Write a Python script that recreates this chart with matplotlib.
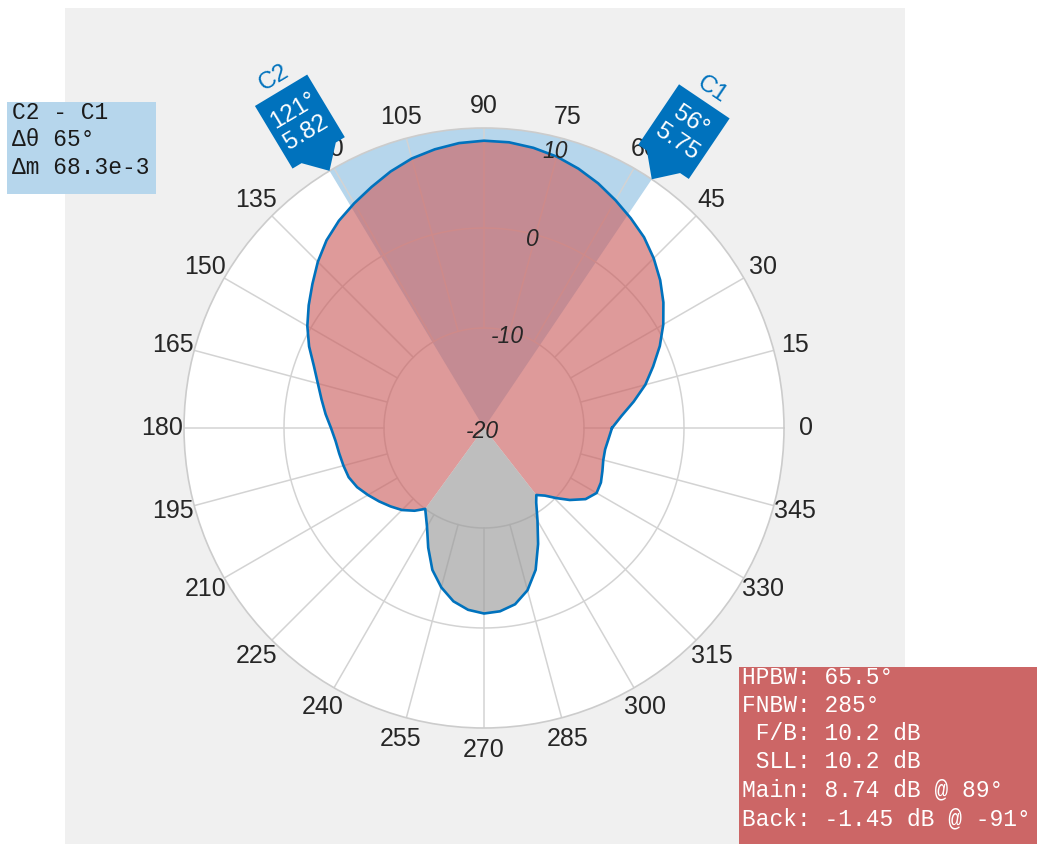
import numpy as np
import matplotlib
matplotlib.use("Agg")
import matplotlib.pyplot as plt
from matplotlib.patches import Polygon, Rectangle
from matplotlib.transforms import Affine2D, ScaledTranslation

# ---------------- data ----------------
angle_deg = [0, 5, 10, 15, 20, 25, 30, 35, 40, 45, 50, 55, 60, 65, 70, 75, 80, 85, 90,
             95, 100, 105, 110, 115, 120, 125, 130, 135, 140, 145, 150, 155, 160, 165,
             170, 175, 180, 185, 190, 195, 200, 205, 210, 215, 220, 225, 230, 234, 240,
             245, 250, 255, 260, 265, 270, 275, 280, 285, 290, 295, 300, 305, 308, 312,
             316, 320, 325, 330, 335, 340, 345, 350, 355]
mag_db = [-7.2, -6.2, -4.8, -3.3, -2.0, -0.6, 0.7, 1.9, 3.0, 4.0, 4.9, 5.6, 6.3, 7.0, 7.6,
          8.1, 8.45, 8.68, 8.73, 8.6, 8.3, 7.9, 7.3, 6.6, 5.95, 5.3, 4.5, 3.5, 2.4, 1.4,
          0.4, -0.7, -1.9, -2.8, -3.5, -4.1, -4.7, -5.1, -5.3, -5.45, -5.6, -6.0, -6.6,
          -7.2, -7.8, -8.4, -9.2, -10.0, -8.6, -6.8, -4.9, -3.5, -2.4, -1.75, -1.45, -1.6,
          -2.1, -3.2, -4.9, -7.2, -9.3, -10.9, -11.5, -10.9, -9.9, -8.8, -7.6, -7.0, -7.1,
          -7.4, -7.65, -7.7, -7.5]

null_angles = [234, 308]            # first nulls bounding the main lobe
cursor_names = ["C1", "C2"]
cursor_angles = [56, 121]
cursor_values = [5.75, 5.82]
theta_ticks = list(range(0, 360, 15))
r_ticks = [-20, -10, 0, 10]
r_min, r_max = -20, 10
delta_lines = ["C2 - C1", "\u0394\u03b8 65\u00b0", "\u0394m 68.3e-3"]
metric_lines = ["HPBW: 65.5\u00b0", "FNBW: 285\u00b0", " F/B: 10.2 dB", " SLL: 10.2 dB",
                "Main: 8.74 dB @ 89\u00b0", "Back: -1.45 dB @ -91\u00b0"]

# ---------------- style ----------------
W, H = 1037, 844
BLUE = "#0072BD"
LIGHT_BLUE = "#B6D6EC"
RED = "#CC6262"
GREY = "#9A9A9A"
GRID = "#D3D3D3"
SANS = ["Liberation Sans", "DejaVu Sans"]
MONO = ["Liberation Mono", "DejaVu Sans Mono"]

fig = plt.figure(figsize=(W / 100, H / 100), dpi=100)
fig.patch.set_facecolor("white")
fig.add_artist(Rectangle((65 / W, 0), (905 - 65) / W, (H - 8) / H, transform=fig.transFigure,
                         facecolor="#F0F0F0", edgecolor="none", zorder=-5))

cx, cy, R = 484, 428, 300
ax = fig.add_axes([(cx - R) / W, (H - (cy + R)) / H, 2 * R / W, 2 * R / H], projection="polar")
ax.set_facecolor("white")
ax.set_ylim(r_min, r_max)
ax.grid(False)
ax.set_xticks([])
ax.set_yticks([])
ax.spines["polar"].set_color("#CCCCCC")
ax.spines["polar"].set_linewidth(1.2)

a = np.array(angle_deg, float)
m = np.array(mag_db, float)

# HPBW span sector (light blue)
c1, c2 = cursor_angles
ax.bar(np.deg2rad((c1 + c2) / 2), r_max - r_min, width=np.deg2rad(c2 - c1), bottom=r_min,
       color=LIGHT_BLUE, edgecolor="none", zorder=1)

# grid
circ = np.linspace(0, 2 * np.pi, 721)
for rv in r_ticks[1:-1]:
    ax.plot(circ, np.full_like(circ, rv), color=GRID, lw=1.1, zorder=2)
for t in theta_ticks:
    ax.plot([np.deg2rad(t)] * 2, [r_ticks[1], r_max], color=GRID, lw=1.1, zorder=2)

# main lobe fill
lo, hi = null_angles
main_mask = (a <= lo) | (a >= hi)
ua = np.where(a >= hi, a - 360, a)
order = np.argsort(ua[main_mask])
ma = ua[main_mask][order]
mm = m[main_mask][order]
ax.fill(np.deg2rad(np.r_[ma[0], ma, ma[-1]]), np.r_[r_min, mm, r_min],
        color=RED, alpha=0.644, lw=0, zorder=3)

# back lobe fill
back_mask = (a >= lo) & (a <= hi)
ba = a[back_mask]
bm = m[back_mask]
ax.fill(np.deg2rad(np.r_[ba[0], ba, ba[-1]]), np.r_[r_min, bm, r_min],
        color=GREY, alpha=0.644, lw=0, zorder=3)

# pattern curve
ax.plot(np.deg2rad(np.r_[a, a[0] + 360]), np.r_[m, m[0]], color=BLUE, lw=1.9, zorder=5,
        solid_joinstyle="round")

# angle tick labels
for t in theta_ticks:
    ax.text(np.deg2rad(t), r_max + 2.2, str(t), ha="center", va="center", fontsize=18,
            family=SANS, color="#262626", clip_on=False, zorder=6)

# magnitude tick labels
for rv in r_ticks:
    if rv == r_min:
        ax.annotate(str(rv), xy=(0, r_min), xytext=(-2, -4), textcoords="offset pixels",
                    ha="center", va="center", fontsize=16.5, style="italic", family=SANS,
                    color="#262626", zorder=7)
    else:
        rp = rv - (1.45 if rv == r_max else 0.55)
        ax.text(np.deg2rad(75.5), rp, str(rv), ha="center", va="center", fontsize=16.5,
                style="italic", family=SANS, color="#262626", zorder=7, clip_on=False)

# cursor markers
for name, ang, val in zip(cursor_names, cursor_angles, cursor_values):
    th = np.deg2rad(ang)
    rot = ang - 90
    anchor = ScaledTranslation(th, r_max, ax.transData)
    verts = [(-30.5, 94), (30.5, 94), (30.5, 21), (20, 21), (0, 0), (-20, 21), (-30.5, 21)]
    poly = Polygon(verts, closed=True, transform=Affine2D().rotate_deg(rot) + anchor,
                   facecolor=BLUE, edgecolor="none", clip_on=False, zorder=20)
    ax.add_artist(poly)
    for v, txt, col, fs in [(57.5, f"{ang}\u00b0\n{val:.2f}", "white", 17.5),
                            (108, name, BLUE, 17.5)]:
        dx, dy = v * np.cos(th), v * np.sin(th)
        ax.text(0, 0, txt, transform=Affine2D().translate(dx, dy) + anchor, rotation=rot,
                rotation_mode="anchor", ha="center", va="center", fontsize=fs, family=SANS,
                color=col, linespacing=1.2, clip_on=False, zorder=21)

# delta box (top-left)
fig.add_artist(Rectangle((7 / W, 1 - 194 / H), (156 - 7) / W, (194 - 102) / H,
                         transform=fig.transFigure, facecolor=LIGHT_BLUE, edgecolor="none",
                         zorder=10))
for i, line in enumerate(delta_lines):
    fig.text(12 / W, 1 - (112.5 + 27.5 * i) / H, line, ha="left", va="center",
             fontsize=16.5, family=MONO, color="#1a1a1a", zorder=11)

# metrics box (bottom-right)
fig.add_artist(Rectangle((739 / W, 0), (W - 739) / W, (H - 667) / H,
                         transform=fig.transFigure, facecolor="#CC6666", edgecolor="none",
                         zorder=10))
for i, line in enumerate(metric_lines):
    fig.text(742 / W, 1 - (677 + 28.3 * i) / H, line, ha="left", va="center",
             fontsize=16.5, family=MONO, color="white", zorder=11)

fig.savefig("out.png", dpi=100, facecolor="white")
